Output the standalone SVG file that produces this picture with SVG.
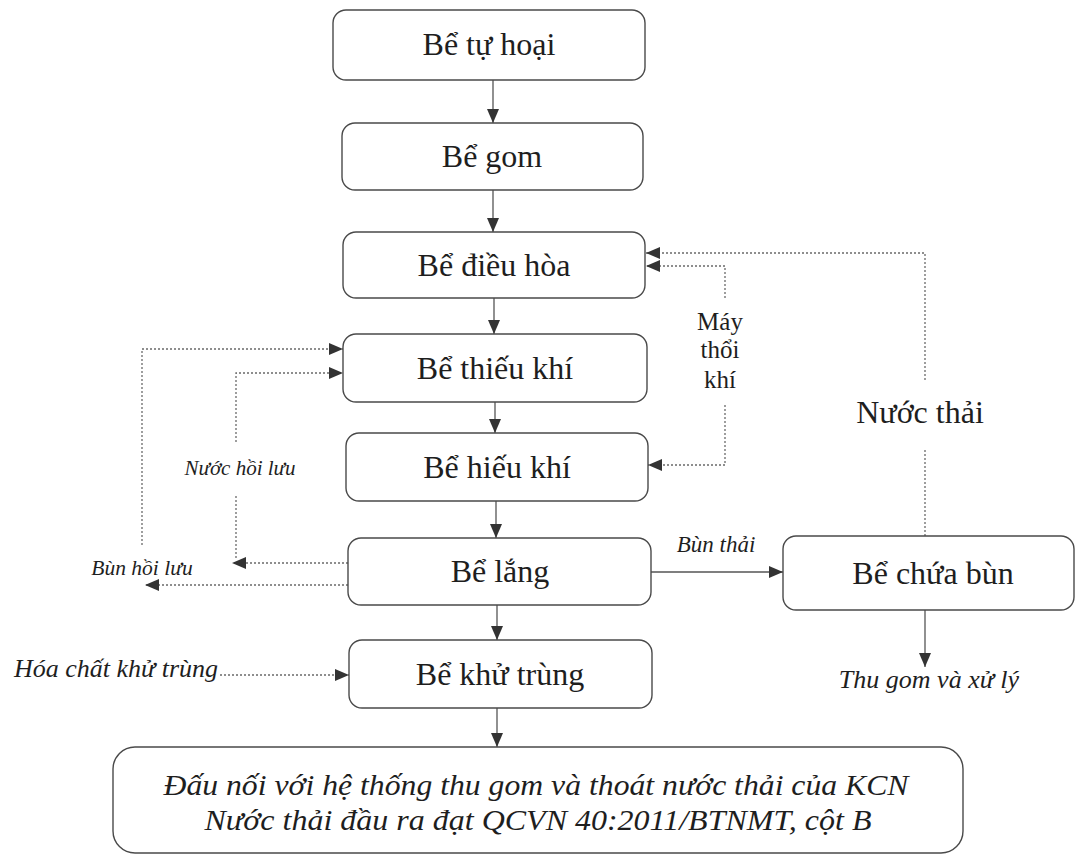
<svg xmlns="http://www.w3.org/2000/svg" width="1078" height="858" viewBox="0 0 1078 858">
  <style>
    .box { fill: #ffffff; stroke: #4a4a4a; stroke-width: 1.4; }
    .lbl { font-family: "Liberation Serif", "Times New Roman", serif; font-size: 32px; fill: #1e1e1e; text-anchor: middle; }
    .small { font-size: 25px; }
    .note { font-family: "Liberation Serif", "Times New Roman", serif; font-style: italic; fill: #1e1e1e; text-anchor: middle; }
    .end { text-anchor: end; }
    .solid { fill: none; stroke: #555555; stroke-width: 1.3; }
    .dot { fill: none; stroke: #6a6a6a; stroke-width: 1.3; stroke-dasharray: 2 2; }
  </style>
  <defs>
    <marker id="arrow" viewBox="0 0 14 12" refX="14" refY="6" markerWidth="14" markerHeight="12" markerUnits="userSpaceOnUse" orient="auto">
      <path d="M0,0 L14,6 L0,12 z" fill="#333333"/>
    </marker>
  </defs>

  <rect width="1078" height="858" fill="#ffffff"/>

  <!-- connectors -->
  <g id="connectors">
    <path class="solid" d="M493,80 V123" marker-end="url(#arrow)"/>
    <path class="solid" d="M493,190 V232" marker-end="url(#arrow)"/>
    <path class="solid" d="M494,298 V334" marker-end="url(#arrow)"/>
    <path class="solid" d="M495,402 V433" marker-end="url(#arrow)"/>
    <path class="solid" d="M496,501 V538" marker-end="url(#arrow)"/>
    <path class="solid" d="M497,605 V640" marker-end="url(#arrow)"/>
    <path class="solid" d="M497,708 V747" marker-end="url(#arrow)"/>
    <path class="solid" d="M651,572 H783" marker-end="url(#arrow)"/>
    <path class="solid" d="M925,610 V667" marker-end="url(#arrow)"/>

    <!-- chemical dosing -->
    <path class="dot" d="M220,675 H349" marker-end="url(#arrow)"/>

    <!-- sludge return -->
    <path class="dot" d="M348,585 H145" marker-end="url(#arrow)"/>
    <path class="dot" d="M142,545 V349 H343" marker-end="url(#arrow)"/>

    <!-- water return -->
    <path class="dot" d="M348,563 H232" marker-end="url(#arrow)"/>
    <path class="dot" d="M236,558 V495"/>
    <path class="dot" d="M236,442 V373 H343" marker-end="url(#arrow)"/>

    <!-- blower lines -->
    <path class="dot" d="M725,405 V465 H648" marker-end="url(#arrow)"/>
    <path class="dot" d="M725,298 V266 H646" marker-end="url(#arrow)"/>

    <!-- sludge tank water back to equalization -->
    <path class="dot" d="M925,536 V450"/>
    <path class="dot" d="M925,380 V253 H646" marker-end="url(#arrow)"/>
  </g>

  <g id="be-tu-hoai">
    <rect class="box" x="333" y="10" width="312" height="70" rx="13"/>
    <text class="lbl" x="489" y="55">Bể tự hoại</text>
  </g>
  <g id="be-gom">
    <rect class="box" x="342" y="123" width="301" height="67" rx="13"/>
    <text class="lbl" x="492" y="167">Bể gom</text>
  </g>
  <g id="be-dieu-hoa">
    <rect class="box" x="343" y="232" width="302" height="66" rx="13"/>
    <text class="lbl" x="494" y="276">Bể điều hòa</text>
  </g>
  <g id="be-thieu-khi">
    <rect class="box" x="343" y="334" width="304" height="68" rx="13"/>
    <text class="lbl" x="495" y="379">Bể thiếu khí</text>
  </g>
  <g id="be-hieu-khi">
    <rect class="box" x="346" y="433" width="302" height="68" rx="13"/>
    <text class="lbl" x="497" y="478">Bể hiếu khí</text>
  </g>
  <g id="be-lang">
    <rect class="box" x="348" y="538" width="303" height="67" rx="13"/>
    <text class="lbl" x="500" y="582">Bể lắng</text>
  </g>
  <g id="be-khu-trung">
    <rect class="box" x="349" y="640" width="303" height="68" rx="13"/>
    <text class="lbl" x="500" y="685">Bể khử trùng</text>
  </g>
  <g id="be-chua-bun">
    <rect class="box" x="783" y="536" width="291" height="74" rx="13"/>
    <text class="lbl" x="933" y="584">Bể chứa bùn</text>
  </g>
  <g id="dau-noi">
    <rect class="box" x="113" y="747" width="850" height="106" rx="22"/>
    <text class="note" x="536" y="795" font-size="29" textLength="745" lengthAdjust="spacingAndGlyphs">Đấu nối với hệ thống thu gom và thoát nước thải của KCN</text>
    <text class="note" x="538" y="830" font-size="29" textLength="667" lengthAdjust="spacingAndGlyphs">Nước thải đầu ra đạt QCVN 40:2011/BTNMT, cột B</text>
  </g>

  <g id="labels">
    <text class="note" x="240" y="475" font-size="21">Nước hồi lưu</text>
    <text class="note" x="142" y="575" font-size="21.5">Bùn hồi lưu</text>
    <text class="note" x="716" y="552" font-size="23">Bùn thải</text>
    <text class="note" x="929" y="688" font-size="26">Thu gom và xử lý</text>
    <text class="note end" x="218" y="677" font-size="26">Hóa chất khử trùng</text>
    <text class="lbl small" x="720" y="330">Máy</text>
    <text class="lbl small" x="720" y="358">thổi</text>
    <text class="lbl small" x="720" y="388">khí</text>
    <text class="lbl" x="920" y="423">Nước thải</text>
  </g>
</svg>
